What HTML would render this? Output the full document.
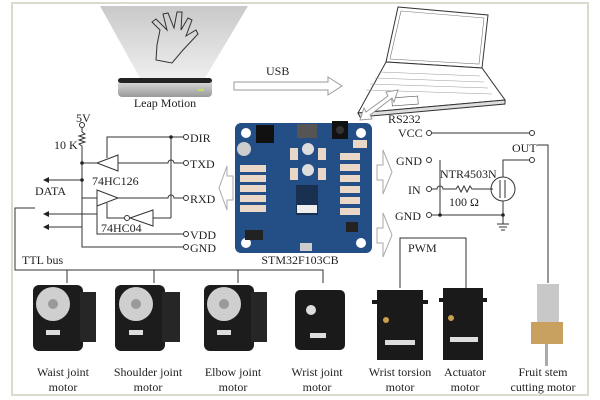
<!DOCTYPE html>
<html><head><meta charset="utf-8"><style>
body{margin:0;background:#fff}
svg{display:block}
text{font-family:"Liberation Serif",serif;fill:#222}
</style></head><body>
<svg width="600" height="400" viewBox="0 0 600 400" xmlns="http://www.w3.org/2000/svg">
<rect width="600" height="400" fill="#fff"/>
<rect x="12" y="3" width="576" height="392" fill="none" stroke="#d8dccf" stroke-width="2"/>
<defs>
<linearGradient id="beam" x1="0" y1="0" x2="0" y2="1"><stop offset="0" stop-color="#c9c9c9"/><stop offset="1" stop-color="#eeeeee"/></linearGradient>
<linearGradient id="silver" x1="0" y1="0" x2="0" y2="1"><stop offset="0" stop-color="#e8e8e8"/><stop offset="1" stop-color="#9a9a9a"/></linearGradient>
<marker id="ah" markerWidth="6" markerHeight="6" refX="5" refY="3" orient="auto"><path d="M0,0 L6,3 L0,6 z" fill="#222"/></marker>
</defs>
<polygon points="100,6 248,6 205,78 140,78" fill="url(#beam)"/>
<path d="M160,30 L152,22 L156,19 L167,30 L163,14 L168,13 L174,28 L177,12 L182,12 L181,30 L188,18 L192,20 L186,36 L196,30 L198,34 L183,50 L172,63 L156,60 L157,45 Z" fill="none" stroke="#333" stroke-width="1"/>
<rect x="118" y="78" width="94" height="19" rx="4" fill="url(#silver)"/>
<rect x="118" y="78" width="94" height="5" rx="3" fill="#222"/>
<rect x="198" y="89" width="6" height="2" fill="#bfe060"/>
<text x="165" y="107" font-size="12" text-anchor="middle">Leap Motion</text>
<polygon points="234,82 328,82 328,77 342,86 328,95 328,90 234,90" fill="#fff" stroke="#999"/>
<text x="266" y="75" font-size="12">USB</text>
<polygon points="398,7 488,15 482,68 386,62" fill="#fff" stroke="#333"/>
<polygon points="401,11 484,18 479,64 390,59" fill="none" stroke="#777" stroke-width="0.6"/>
<polygon points="386,62 482,68 505,100 358,113" fill="#fff" stroke="#333"/>
<polygon points="358,113 505,100 505,104 360,117" fill="#ddd" stroke="#333"/>
<g stroke="#999" stroke-width="0.5"><line x1="380" y1="72" x2="480" y2="76"/><line x1="375" y1="78" x2="484" y2="82"/><line x1="370" y1="84" x2="488" y2="88"/><line x1="366" y1="90" x2="492" y2="94"/></g>
<rect x="392" y="97" width="26" height="8" fill="none" stroke="#555" stroke-width="0.6" transform="rotate(-4 405 101)"/>
<polygon points="360,120 364,108 366,112 388,96 386,92 398,90 394,102 392,98 370,115 372,119" fill="#fff" stroke="#999"/>
<text x="388" y="123" font-size="12">RS232</text>
<rect x="235" y="123" width="137" height="130" rx="6" fill="#234f86"/>
<circle cx="246" cy="133" r="5" fill="#fff"/><circle cx="361" cy="133" r="5" fill="#fff"/><circle cx="246" cy="243" r="5" fill="#fff"/><circle cx="361" cy="243" r="5" fill="#fff"/>
<rect x="256" y="125" width="18" height="18" fill="#111"/><rect x="332" y="121" width="16" height="18" fill="#111"/><circle cx="340" cy="130" r="4" fill="#333"/>
<rect x="297" y="124" width="20" height="14" fill="#555"/>
<circle cx="244" cy="149" r="7" fill="#ccc"/>
<g fill="#e9d8c8"><rect x="240" y="165" width="26" height="7"/><rect x="240" y="175" width="26" height="7"/><rect x="240" y="185" width="26" height="7"/><rect x="240" y="195" width="26" height="7"/><rect x="240" y="205" width="26" height="7"/>
<rect x="340" y="153" width="20" height="7"/><rect x="340" y="164" width="20" height="7"/><rect x="340" y="175" width="20" height="7"/><rect x="340" y="186" width="20" height="7"/><rect x="340" y="197" width="20" height="7"/><rect x="340" y="208" width="20" height="7"/>
<rect x="290" y="148" width="8" height="12"/><rect x="318" y="148" width="8" height="12"/><rect x="290" y="168" width="8" height="12"/><rect x="318" y="168" width="8" height="12"/><rect x="353" y="140" width="14" height="8"/></g>
<circle cx="308" cy="149" r="6" fill="#ddd"/><circle cx="308" cy="170" r="6" fill="#ddd"/>
<rect x="296" y="185" width="22" height="30" fill="#1a3050"/>
<rect x="297" y="205" width="20" height="8" fill="#eee"/>
<rect x="245" y="230" width="18" height="10" fill="#222"/><rect x="346" y="222" width="12" height="10" fill="#222"/>
<rect x="300" y="243" width="12" height="8" fill="#ccc"/>
<text x="300" y="264" font-size="12" text-anchor="middle">STM32F103CB</text>
<polygon points="233,176 227,176 227,166 219,188 227,210 227,200 233,200" fill="#fff" stroke="#aaa"/>
<polygon points="377,165 383,165 383,150 392,172 383,194 383,180 377,180" fill="#fff" stroke="#aaa"/>
<polygon points="377,228 383,228 383,213 392,235 383,257 383,243 377,243" fill="#fff" stroke="#aaa"/>
<g stroke="#333" stroke-width="1" fill="none">
<circle cx="82" cy="125" r="2.5" fill="#fff"/>
<line x1="82" y1="128" x2="82" y2="132"/>
<path d="M82,132 l3,2 l-6,2 l6,2 l-6,2 l6,2 l-6,2 l3,2"/>
<line x1="82" y1="146" x2="82" y2="198"/>
<line x1="82" y1="198" x2="97" y2="198"/>
<line x1="82" y1="163" x2="97" y2="163"/>
<polygon points="97,163 118,155 118,171" fill="#fff"/>
<path d="M118,163 H168 a3,3 0 0 1 6,0 H183"/>
<path d="M107,158 V137 H183"/>
<line x1="171" y1="137" x2="171" y2="218"/>
<polygon points="118,198 97,190 97,206" fill="#fff"/>
<path d="M118,198 H168 a3,3 0 0 1 6,0 H183"/>
<path d="M107,203 V218 H124"/>
<polygon points="130,218 153,210 153,226" fill="#fff"/>
<circle cx="127" cy="218" r="2.5" fill="#fff"/>
<line x1="153" y1="218" x2="171" y2="218"/>
<path d="M97,206 V234 H183"/>
<path d="M82,198 V247 H183"/>
<line x1="82" y1="180" x2="44" y2="180" marker-end="url(#ah)"/>
<line x1="97" y1="214" x2="44" y2="214" marker-end="url(#ah)"/>
<line x1="82" y1="227" x2="44" y2="227" marker-end="url(#ah)"/>
<path d="M35,208 H15 V270 H323 V283"/>
<line x1="67" y1="270" x2="67" y2="283"/><line x1="154" y1="270" x2="154" y2="283"/><line x1="238" y1="270" x2="238" y2="283"/>
</g>
<g fill="#222"><circle cx="82" cy="163" r="1.8"/><circle cx="82" cy="180" r="1.8"/><circle cx="171" cy="137" r="1.8"/></g>
<g fill="#fff" stroke="#333"><circle cx="186" cy="137" r="2.5"/><circle cx="186" cy="163" r="2.5"/><circle cx="186" cy="198" r="2.5"/><circle cx="186" cy="234" r="2.5"/><circle cx="186" cy="247" r="2.5"/></g>
<g font-size="12"><text x="76" y="122">5V</text><text x="54" y="149">10 K</text><text x="190" y="142">DIR</text><text x="190" y="168">TXD</text><text x="190" y="203">RXD</text><text x="190" y="239">VDD</text><text x="190" y="252">GND</text>
<text x="92" y="185">74HC126</text><text x="35" y="195">DATA</text><text x="101" y="232">74HC04</text><text x="22" y="264">TTL bus</text></g>
<g stroke="#333" stroke-width="1" fill="none">
<line x1="431" y1="133" x2="530" y2="133"/>
<path d="M440,160 V215"/>
<path d="M431,189 H437 a3,3 0 0 1 6,0 H456 l2,-3 l3,6 l3,-6 l3,6 l3,-6 l2,3 H485"/>
<circle cx="503" cy="189" r="12"/>
<line x1="485" y1="189" x2="493" y2="189"/>
<path d="M500,180 V198 M505,180 V198"/>
<path d="M503,177 V160 H530"/>
<path d="M503,201 V215 H431"/>
<line x1="503" y1="215" x2="503" y2="224"/>
<path d="M497,224 H509 M499,227 H507 M501,230 H505"/>
<path d="M537,145 H548 V283"/>
<path d="M400,288 V238 H466 V288"/>
</g>
<g fill="#222"><circle cx="440" cy="215" r="1.8"/><circle cx="503" cy="215" r="1.8"/></g>
<g fill="#fff" stroke="#333"><circle cx="429" cy="133" r="2.5"/><circle cx="532" cy="133" r="2.5"/><circle cx="429" cy="160" r="2.5"/><circle cx="532" cy="160" r="2.5"/><circle cx="429" cy="189" r="2.5"/><circle cx="429" cy="215" r="2.5"/></g>
<g font-size="12"><text x="398" y="137">VCC</text><text x="396" y="165">GND</text><text x="408" y="194">IN</text><text x="395" y="220">GND</text><text x="440" y="178">NTR4503N</text><text x="449" y="206">100 Ω</text><text x="512" y="152">OUT</text><text x="408" y="252">PWM</text></g>
<g>
<rect x="33" y="285" width="50" height="66" rx="6" fill="#1c1c1c"/><rect x="80" y="292" width="16" height="50" fill="#262626"/><circle cx="53" cy="304" r="17" fill="#cfcfcf"/><circle cx="53" cy="304" r="5" fill="#999"/><rect x="46" y="330" width="14" height="5" fill="#ddd"/>
<rect x="115" y="285" width="50" height="66" rx="6" fill="#1c1c1c"/><rect x="162" y="292" width="18" height="50" fill="#262626"/><circle cx="136" cy="304" r="17" fill="#cfcfcf"/><circle cx="136" cy="304" r="5" fill="#999"/><rect x="129" y="330" width="14" height="5" fill="#ddd"/>
<rect x="204" y="285" width="50" height="66" rx="6" fill="#1c1c1c"/><rect x="251" y="292" width="16" height="50" fill="#262626"/><circle cx="224" cy="304" r="17" fill="#cfcfcf"/><circle cx="224" cy="304" r="5" fill="#999"/><rect x="217" y="330" width="14" height="5" fill="#ddd"/>
<rect x="295" y="290" width="50" height="60" rx="5" fill="#1a1a1a"/><circle cx="311" cy="310" r="5" fill="#ddd"/><rect x="310" y="333" width="16" height="5" fill="#ddd"/>
<rect x="377" y="290" width="46" height="70" fill="#1a1a1a"/><rect x="372" y="300" width="56" height="4" fill="#1a1a1a"/><circle cx="386" cy="320" r="3" fill="#c9a050"/><rect x="385" y="340" width="30" height="5" fill="#ddd"/>
<rect x="443" y="288" width="40" height="72" fill="#1a1a1a"/><rect x="439" y="298" width="48" height="4" fill="#1a1a1a"/><circle cx="451" cy="318" r="3" fill="#c9a050"/><rect x="450" y="337" width="28" height="5" fill="#ddd"/>
<rect x="537" y="284" width="22" height="38" fill="#c8c8c8"/><rect x="531" y="322" width="32" height="22" fill="#c8a060"/><rect x="545" y="344" width="3" height="22" fill="#aaa"/>
</g>
<g font-size="12" text-anchor="middle">
<text x="63" y="376">Waist joint</text><text x="63" y="391">motor</text>
<text x="148" y="376">Shoulder joint</text><text x="148" y="391">motor</text>
<text x="233" y="376">Elbow joint</text><text x="233" y="391">motor</text>
<text x="317" y="376">Wrist joint</text><text x="317" y="391">motor</text>
<text x="400" y="376">Wrist torsion</text><text x="400" y="391">motor</text>
<text x="465" y="376">Actuator</text><text x="465" y="391">motor</text>
<text x="543" y="376">Fruit stem</text><text x="543" y="391">cutting motor</text>
</g>
</svg>
</body></html>
